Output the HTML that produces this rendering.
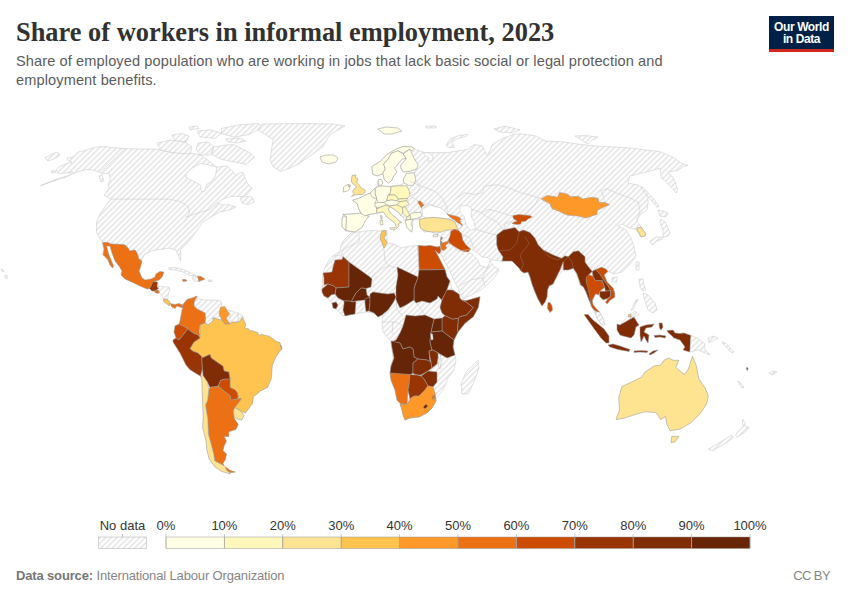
<!DOCTYPE html>
<html><head><meta charset="utf-8">
<style>
html,body{margin:0;padding:0;background:#fff;}
body{width:850px;height:600px;position:relative;overflow:hidden;font-family:"Liberation Sans",sans-serif;}
.title{position:absolute;left:16px;top:16.5px;font-family:"Liberation Serif",serif;font-weight:bold;font-size:26.4px;color:#323232;white-space:nowrap;letter-spacing:0px;}
.sub{position:absolute;left:16px;top:52px;font-size:14.6px;line-height:18.6px;color:#5b5b5b;width:720px;letter-spacing:0.1px;}
.logo{position:absolute;left:769px;top:16px;width:65px;height:36px;background:#002147;}
.logo .bar{position:absolute;left:0;bottom:0;width:65px;height:3px;background:#ce261e;}
.logo .t{position:absolute;left:0;top:4.6px;width:65px;text-align:center;color:#fff;font-weight:bold;font-size:12px;line-height:12.4px;letter-spacing:-0.4px;}
.foot{position:absolute;left:16px;top:568px;font-size:13px;color:#858585;white-space:nowrap;letter-spacing:-0.15px;}
.foot b{color:#767676;}
.cc{position:absolute;right:20px;top:568px;font-size:13px;color:#858585;letter-spacing:-0.6px;}
svg{position:absolute;left:0;top:0;}
.lt{font-size:13px;fill:#333;}
</style></head><body>
<div class="title">Share of workers in informal employment, 2023</div>
<div class="sub">Share of employed population who are working in jobs that lack basic social or legal protection and<br>employment benefits.</div>
<div class="logo"><div class="t">Our World<br>in Data</div><div class="bar"></div></div>
<svg width="850" height="600" viewBox="0 0 850 600">
<defs>
<pattern id="nd" patternUnits="userSpaceOnUse" width="4" height="4" patternTransform="rotate(-45 2 2)">
<rect x="-1" y="-1" width="6" height="6" fill="#ffffff"/>
<path d="M -1,2 l 6,0" stroke="#d4d4d4" stroke-width="1.0"/>
</pattern>
</defs>
<g id="map">
<path d="M40.3,185.7L56.2,179.3L66.8,176.1L73.1,171.9L58.3,174L56.2,169.8L59.4,166.6L66.8,163.4L72.1,162.4L67.8,160.2L66.8,158.1L73.1,157.1L78.4,151.8L82.7,151.2L90.1,148.6L98.6,147L104.9,146.5L111.3,147.5L125,148.6L140,149L155,149L171,152L190,153L201,155L209,161L216.8,167.1L227.4,165.9L233.2,171.8L235.6,175.3L242.6,171.8L245,177.6L247.4,183.5L252,188.2L247.4,194.1L242.6,196.5L230.9,196.5L223.8,198.8L217.9,202.4L221.5,205L228,204.5L236,207L230,210L220,211.8L212,216.5L203.8,221.2L200,226.2L193.5,235.3L188.3,241.7L180.6,249.5L180.6,261.2L179.3,257.3L175.4,249.5L168.9,248.2L159.9,249.5L152.1,250.8L144.3,254.7L141.7,259.9L139,259L137,253L135,250L130,251L128,248L125,245L122,244.5L111,244L102.5,242.5L96.5,232.7L96.5,222.3L100.3,213.3L106.8,204.2L110.7,199.1L104.2,195.2L107,191L109.2,188.8L108.1,184.6L110.2,180.4L109.2,173L102.8,174L98.6,171.9L92.2,169.8L85.8,169.8L77.4,171.9L66.8,176.8L56.2,180.3Z" fill="url(#nd)" stroke="#c9c9c9" stroke-width="0.55" stroke-linejoin="round"/>
<path d="M240.3,198L246,196.5L252,197L254.4,202L248,204.7L242,203Z" fill="url(#nd)" stroke="#c9c9c9" stroke-width="0.55" stroke-linejoin="round"/>
<path d="M186.2,174.1L192,168.2L200.3,163.5L207.4,164.7L216.8,167.1L215.6,175.3L212,181.2L206.2,184.7L205,190.6L201.5,191.8L200.3,184.7L193,181L186.2,177.6Z" fill="#fff" stroke="#c9c9c9" stroke-width="0.55"/>
<path d="M172,135L182,133.5L189,136L186,142L175,141Z" fill="url(#nd)" stroke="#c9c9c9" stroke-width="0.55" stroke-linejoin="round"/>
<path d="M157,143L170,140L185,142L192,147L190,154L175,153L160,150Z" fill="url(#nd)" stroke="#c9c9c9" stroke-width="0.55" stroke-linejoin="round"/>
<path d="M197,131L210,129.8L221.5,133L215,138.4L200,137Z" fill="url(#nd)" stroke="#c9c9c9" stroke-width="0.55" stroke-linejoin="round"/>
<path d="M198,143L208,142L214,147L210,155L200,155L196,149Z" fill="url(#nd)" stroke="#c9c9c9" stroke-width="0.55" stroke-linejoin="round"/>
<path d="M189,127L197,126L199,128.5L190,130Z" fill="url(#nd)" stroke="#c9c9c9" stroke-width="0.55" stroke-linejoin="round"/>
<path d="M214,147L226,145L233.8,144.6L248.6,152L254.8,157L250,161L246.2,164.3L233.8,161.9L221.5,159.4L211.6,154.4Z" fill="url(#nd)" stroke="#c9c9c9" stroke-width="0.55" stroke-linejoin="round"/>
<path d="M226,139L240,138L246,141L238,143L228,142Z" fill="url(#nd)" stroke="#c9c9c9" stroke-width="0.55" stroke-linejoin="round"/>
<path d="M221.5,128.5L238.8,124.8L258.5,123.6L262,126L256,131L248.6,134.7L233.8,137.2L221.5,133.5Z" fill="url(#nd)" stroke="#c9c9c9" stroke-width="0.55" stroke-linejoin="round"/>
<path d="M262,124L300,123.5L334,124L345,126L338,130L330,134.7L326,141L322.7,147L310,156L298,164.3L290,168L280.7,171.7L273.3,166.8L270,160L270.9,154.4L272,146L273.3,139.6L266,135L258,130Z" fill="url(#nd)" stroke="#c9c9c9" stroke-width="0.55" stroke-linejoin="round"/>
<path d="M320,157L326,155L334,155L338,158L336,162L328,164L322,162Z" fill="#ffffe5" stroke="#999" stroke-width="0.55" stroke-linejoin="round"/>
<path d="M157.5,282L159,286.5L169,287L170,290L168,295L168,299L164,299L161,295L159,293L158,290Z" fill="url(#nd)" stroke="#c9c9c9" stroke-width="0.55" stroke-linejoin="round"/>
<path d="M168,268L174,267.5L182,269L190,272.5L196,275.5L190,275.5L183,272L175,270L170,270Z" fill="url(#nd)" stroke="#c9c9c9" stroke-width="0.55" stroke-linejoin="round"/>
<path d="M192,277L197.5,276L199,281.5L194,281Z" fill="url(#nd)" stroke="#c9c9c9" stroke-width="0.55" stroke-linejoin="round"/>
<path d="M197,296L199,299L205,300L215,300L221,301L222,308L221,310L227,310L232,311L242,315L244,318L239,322L230,323L226,318L222,315L218,317L213,318L213,321L208,325L205,323L205,313L197,309L194,304Z" fill="url(#nd)" stroke="#c9c9c9" stroke-width="0.55" stroke-linejoin="round"/>
<path d="M413,147.6L414.9,149.3L424.8,152.6L438,152.6L447.8,152.6L457.7,151L467.6,149.3L474.2,144.4L482.4,146L487.4,155.9L492.3,144.4L503.8,137.8L513.7,134.5L520.3,133.7L536.8,136.1L545,140.9L562.6,141.8L580.3,144.4L597.9,146.2L615.5,147L629.7,147.9L643.8,149.7L659.6,151.5L672,156.7L682.6,163.8L688.2,165.3L682.4,167L677.6,170.6L668.2,171.8L674,178.8L677.6,189.4L676.5,193L668,184L661.2,177.6L660,168L650.8,170.9L629.7,176.1L627.9,183.2L638.5,185L644,190L648,196L648,204L647,210L640,215L637,221L641,227L646,234L645,236L641,237L637,230L630,228L622,224L618,226L626,230L630,236L634,246L636,256L630,264L622,272L614,274L608,271.3L604,275L607.2,282.2L613,288L614.7,293L614.7,297.2L609.7,300.5L607.2,303.8L603,299.7L599.7,296.3L598.8,294.7L595.5,293.8L592.2,300.5L593,304.7L596.3,308.8L599.7,312.2L603,318L605,325L602,325L597,318L593.8,309.7L591.3,306.3L589,300L586,292L583.3,286.7L580,285L576,273L573,268L563,270L555,280L553,284L549,286L547.5,290L547,297L545,302L542,306L538,299L535,292L532,284L530,277L528,272L524,273L521,271L519,268L515,264L512,261L502,261.3L496,260.7L490.7,259.3L488,258L482,256.7L476,252L470.7,248.7L468.7,251.3L473.3,255.3L478,260L480,265.3L488,268L490,260L491.3,262.7L494.7,266.7L498.7,269.3L497.3,273.3L494.7,277.3L488,284L481,290L463,299L460,293L449.5,270.5L439,251L437,247L441,245L440.5,236.7L437,234L430,231.5L424,232L419.7,225L419.7,219L412.6,220.3L412.6,227.4L411.5,232L406.8,227.4L405.6,220.3L403,217L399,213L394,209L389.5,206.5L388.5,209L389,211L391.5,214L394,216.5L396.5,218L398.5,220.5L401.5,222.5L399.5,223L398,224L399,226L396.5,228.5L396,226L395,223.5L392.5,221L389.5,219L386.5,216.5L385,214L383,212L380,212.5L377.5,213L369,214.4L369,216.2L365.6,220.3L362,227.4L355,232L345.6,230.9L342,226L342,219L343,214.4L361,213.2L358.5,208.5L357.4,203.8L352.6,200.3L359.7,198L366.8,194.4L370.3,193.2L375,188.5L377,186L378.2,180L381,179L382.9,183L381,185.3L388,187L391.5,186L401,184.7L404,183L403.2,179L404.8,176.7L406.4,173.5L414.2,172.8L416.6,168.8L410.3,171.2L403.2,172L400.9,168.1L400.9,164.9L406.4,158.7L402.5,158.7L399.3,162.6L394.6,168.1L397,172L393.8,175.9L391.5,180.6L388.4,183L384.4,179.8L382.9,173.5L377.4,175.9L372.7,174.3L371.9,166.5L379.7,161.8L386.8,154.7L395.4,149.3L403.2,146.5L411.9,146.9Z" fill="url(#nd)" stroke="#c9c9c9" stroke-width="0.55" stroke-linejoin="round"/>
<path d="M422.3,210L424,208.3L430,205L436,207L441,208L447.1,213.8L450,217L449,219.3L442.5,218.3L433.3,217.4L426,218L422.3,216Z" fill="#fff" stroke="#c9c9c9" stroke-width="0.55"/>
<path d="M460,206L468,205.5L472,209L471,216L474,222L475.5,229L470,230.3L466,224L464,216L460,212Z" fill="#fff" stroke="#c9c9c9" stroke-width="0.55"/>
<path d="M446.2,145L449.5,139.4L459.4,135.3L467.6,134.5L466,136.5L458,138.5L452,142L454.4,147.7L448,147.5Z" fill="url(#nd)" stroke="#c9c9c9" stroke-width="0.55" stroke-linejoin="round"/>
<path d="M426,126L436,126L436,128L426,128Z" fill="url(#nd)" stroke="#c9c9c9" stroke-width="0.55" stroke-linejoin="round"/>
<path d="M494,129L505,126L520,130L512,133L500,132Z" fill="url(#nd)" stroke="#c9c9c9" stroke-width="0.55" stroke-linejoin="round"/>
<path d="M378,129L386,127L398,128L402,131L392,134L384,134Z" fill="#ffffe5" stroke="#999" stroke-width="0.55" stroke-linejoin="round"/>
<path d="M575,136L586,135.6L598,137L592,140L588,144L580,139Z" fill="url(#nd)" stroke="#c9c9c9" stroke-width="0.55" stroke-linejoin="round"/>
<path d="M641.5,186.5L643.5,187.5L652,197L659,206L657.5,207.5L650,199L642,189Z" fill="url(#nd)" stroke="#c9c9c9" stroke-width="0.55" stroke-linejoin="round"/>
<path d="M658,210L663,211L668,213L666,217L660,216Z" fill="url(#nd)" stroke="#c9c9c9" stroke-width="0.55" stroke-linejoin="round"/>
<path d="M661,219L666,223L670,233L668,236L663,237L656,237L650,241L652,245L657,241L663,239L663,230L660,223Z" fill="url(#nd)" stroke="#c9c9c9" stroke-width="0.55" stroke-linejoin="round"/>
<path d="M636,262L639,262L639,270L636,270Z" fill="url(#nd)" stroke="#c9c9c9" stroke-width="0.55" stroke-linejoin="round"/>
<path d="M612,278L617,277L617,282L612,282Z" fill="url(#nd)" stroke="#c9c9c9" stroke-width="0.55" stroke-linejoin="round"/>
<path d="M639,279L643,279L644,285L646,290L643,291L640,287Z" fill="url(#nd)" stroke="#c9c9c9" stroke-width="0.55" stroke-linejoin="round"/>
<path d="M643,293L648,295L652,300L655,303L657,310L653,313L648,310L646,304L644,298Z" fill="url(#nd)" stroke="#c9c9c9" stroke-width="0.55" stroke-linejoin="round"/>
<path d="M636,300L638,299.5L632.5,310L631,310.5Z" fill="url(#nd)" stroke="#c9c9c9" stroke-width="0.55" stroke-linejoin="round"/>
<path d="M548,302.5L550,302.5L552,306L552.5,310L550,312.5L547.5,308.3Z" fill="#cc4c02" stroke="#999" stroke-width="0.55" stroke-linejoin="round"/>
<path d="M351,233L358,232L365,231L374,230.5L380,231L383,230L387,231L387,243L394,244L401,248L410,246L418,245.5L425,246L430,245.5L437,247L440,246.5L441,251L439,254L435,250L445,269.5L447,277L450,281L452,288L456,292L461.7,300L465.8,300.8L480,296.7L478.3,307.5L473.3,316.7L465,323.3L458,332L454,340L453,347L455,355L456,360L454,370L448,378L443,390L436,398L436,401L432,408L427,413L419,417L410,418L405,420L403,415L402,410L400,404L397,400L395,390L391,380L390,373L391,366L393,358L391,342L383,332L382,323L383,312L380,316L378,317L374,313L366,312L355,314L343,316L336,309L328,298L324,296L322,292L322,289L323,273L324,270L329,260L334,255L340,251L341,245L344,240Z" fill="url(#nd)" stroke="#c9c9c9" stroke-width="0.55" stroke-linejoin="round"/>
<path d="M478,360L479,368L474,382L468,394L462,394L461,384L466,372L472,366Z" fill="url(#nd)" stroke="#c9c9c9" stroke-width="0.55" stroke-linejoin="round"/>
<path d="M382,231L386,230.5L386,235L384,238L387,242L386,245L384,248L382,243L380,238L381,234Z" fill="#fec44f" stroke="#999" stroke-width="0.55" stroke-linejoin="round"/>
<path d="M418,245.5L425,246L430,245.5L437,247L440,246.5L441,251L439,254L435,250L445,269.5L419,270Z" fill="#cc4c02" stroke="#999" stroke-width="0.55" stroke-linejoin="round"/>
<path d="M419,270L445,269.5L447,277L450,281L446,292.5L441.7,300L438,296L437,299L430,303L422,301L416,303L414,300L414,288L418,277Z" fill="#662506" stroke="#999" stroke-width="0.55" stroke-linejoin="round"/>
<path d="M397,267L418,277L414,288L414,300L406,305L400,308L396,300L396,287L398,275Z" fill="#662506" stroke="#999" stroke-width="0.55" stroke-linejoin="round"/>
<path d="M323,273L332,272L333,267L335,260L342,259.5L343,256.5L349,262L349,287L336,288L334,286L328,284L324,285L324,278Z" fill="#993404" stroke="#999" stroke-width="0.55" stroke-linejoin="round"/>
<path d="M349,262L370,277L372,279L371,287L366,288.5L361,288L356,293L351,302L349,301L344,301L338,298L335,294L336,288L349,287Z" fill="#662506" stroke="#999" stroke-width="0.55" stroke-linejoin="round"/>
<path d="M322,289L328,284L334,286L336,288L335,294L331,295L328,298L324,296L322,292Z" fill="#802c05" stroke="#999" stroke-width="0.55" stroke-linejoin="round"/>
<path d="M361,288L366,288.5L367,295L370,297L365,300L356,301L351,302L356,293Z" fill="#662506" stroke="#999" stroke-width="0.55" stroke-linejoin="round"/>
<path d="M344,301L349,301L353,302L356,301L355,314L349,315L345,316L343,310L344,304Z" fill="#662506" stroke="#999" stroke-width="0.55" stroke-linejoin="round"/>
<path d="M365,299L370,297L370,303L369,311L366,311.5L365,304Z" fill="#662506" stroke="#999" stroke-width="0.55" stroke-linejoin="round"/>
<path d="M370,294L373,292L380,293L388,294L394,293L396,297L393,303L388,310L382,315L378,317L374,313L369,311L370,303Z" fill="#662506" stroke="#999" stroke-width="0.55" stroke-linejoin="round"/>
<path d="M332,303L336,302L338,305L336,309L333,308Z" fill="#662506" stroke="#999" stroke-width="0.55" stroke-linejoin="round"/>
<path d="M446.7,290L452.5,290L459.2,294.2L460,298.3L461.7,300L466,302L473.3,307.5L466.7,315L460,316.7L458.3,318.3L452.5,319.2L445,315.8L442,313L440,307.5L441.7,300.8Z" fill="#802c05" stroke="#999" stroke-width="0.55" stroke-linejoin="round"/>
<path d="M461.7,300L465.8,300.8L480,296.7L478.3,307.5L473.3,316.7L465,323.3L458,332L457.5,330L458.3,318.3L460,316.7L466.7,315L473.3,307.5L466,302Z" fill="#802c05" stroke="#999" stroke-width="0.55" stroke-linejoin="round"/>
<path d="M442,318L445,315.8L452.5,319.2L458.3,318.3L457.5,330L458,332L454,340L450,337L442,331Z" fill="#802c05" stroke="#999" stroke-width="0.55" stroke-linejoin="round"/>
<path d="M434,319L442,318L442,331L431,332L432.5,325Z" fill="#662506" stroke="#999" stroke-width="0.55" stroke-linejoin="round"/>
<path d="M406,315L415,316L425,315L434,319L432.5,325L431,332L430,342L432,350L429,351L430,362L427,360L418,359L414,357L413,349L410,347L403,349L400,343L391,342L396,340L400,333L403,326Z" fill="#662506" stroke="#999" stroke-width="0.55" stroke-linejoin="round"/>
<path d="M431,332L442,331L450,337L454,340L453,347L455,355L447,358L440,354L433,350L432,350L430,342Z" fill="#662506" stroke="#999" stroke-width="0.55" stroke-linejoin="round"/>
<path d="M391,341L400,343L403,349L410,347L413,349L414,357L418,359L413,363L413,373L410,375L390,373.5L391,366L394,358L392,348Z" fill="#662506" stroke="#999" stroke-width="0.55" stroke-linejoin="round"/>
<path d="M413,363L418,359L427,360L431,362L432,368L428,371L421,375L418,375L414,374L413,373Z" fill="#802c05" stroke="#999" stroke-width="0.55" stroke-linejoin="round"/>
<path d="M429,351L433,350L438,353L438,358L437,364L432,368L431,362L430,357Z" fill="#802c05" stroke="#999" stroke-width="0.55" stroke-linejoin="round"/>
<path d="M421,376L428,371L437,372L437,382L433,387L428,386L424,379Z" fill="#802c05" stroke="#999" stroke-width="0.55" stroke-linejoin="round"/>
<path d="M390,373L410,374.5L409,385L408,390L407,404L401,404L397,400L395,390L391,380Z" fill="#ec7014" stroke="#999" stroke-width="0.55" stroke-linejoin="round"/>
<path d="M410,374.5L417,375L421,376L424,379L428,386L425,390L419,396L414,396L410,399L408,390L409,385Z" fill="#993404" stroke="#999" stroke-width="0.55" stroke-linejoin="round"/>
<path d="M400,404L407,404L410,399L414,396L419,396L425,390L428,386L433,387L435,393L436,401L432,408L427,413L419,417L410,418L405,420L403,415L402,410Z" fill="#fe9929" stroke="#999" stroke-width="0.55" stroke-linejoin="round"/>
<path d="M423,407L426,404L428,406L425,409Z" fill="#802c05" stroke="#999" stroke-width="0.55" stroke-linejoin="round"/>
<path d="M432,396L435,395L435,399L432,399Z" fill="#ec7014" stroke="#999" stroke-width="0.55" stroke-linejoin="round"/>
<path d="M342.5,217L346.5,216.5L346,230.5L342,227L342,221Z" fill="#ffffe5" stroke="#999" stroke-width="0.55" stroke-linejoin="round"/>
<path d="M343,214.4L352,214L359.7,213.2L369,216.2L365.6,220.3L362,227.4L355,232L346,230.5L346.5,216.5Z" fill="#ffffe5" stroke="#999" stroke-width="0.55" stroke-linejoin="round"/>
<path d="M352.6,200.3L359.7,198L366.8,194.4L370.3,193.2L375,193.3L376.7,199.2L375,203.3L376.7,208.3L376.7,211.7L376.7,213.3L369,214.4L365,215.8L361,213.2L358.5,208.5L357.4,203.8Z" fill="#ffffe5" stroke="#999" stroke-width="0.55" stroke-linejoin="round"/>
<path d="M352,175.5L356,175L355,177.5L358,178.5L357,181L356.5,182L358.5,184L360,186L361,188L363.5,189L365.5,190.5L364.5,193L362.5,194.5L359,194.5L355,195L351.5,196.5L354,193.5L352.5,192L353.5,190L354.5,188.5L356.5,187L355.5,185.5L353,184L351.5,182L351.5,179Z" fill="#fee391" stroke="#999" stroke-width="0.55" stroke-linejoin="round"/>
<path d="M348,184.5L350.5,185L350,186.5L348.5,186Z" fill="#fee391" stroke="#999" stroke-width="0.55" stroke-linejoin="round"/>
<path d="M343.5,187L347.5,184.5L348.5,186.5L350,186.5L349.5,189L347.5,191L343,192L343.5,190Z" fill="#ffffe5" stroke="#999" stroke-width="0.55" stroke-linejoin="round"/>
<path d="M371.9,166.5L372.7,174.3L377.4,175.9L382.9,173.5L385.2,168.8L383.7,164.1L388.4,158.7L391.5,153.2L397.8,150.8L403.2,153.2L409.5,149.3L411.9,150.8L414.2,148.5L411.9,146.9L403.2,146.5L395.4,149.3L386.8,154.7L379.7,161.8Z" fill="#ffffe5" stroke="#999" stroke-width="0.55" stroke-linejoin="round"/>
<path d="M382.9,173.5L384.4,179.8L388.4,183L391.5,180.6L393.8,175.9L397,172L394.6,168.1L399.3,162.6L402.5,158.7L406.4,158.7L403.2,154L397.8,150.8L391.5,153.2L388.4,158.7L383.7,164.1L385.2,168.8Z" fill="#ffffe5" stroke="#999" stroke-width="0.55" stroke-linejoin="round"/>
<path d="M403.2,154L409.5,149.3L411.9,153.2L414.2,158.7L418.1,164.9L416.6,168.8L410.3,171.2L403.2,172L400.9,168.1L400.9,164.9L406.4,158.7Z" fill="#ffffe5" stroke="#999" stroke-width="0.55" stroke-linejoin="round"/>
<path d="M406.4,173.5L414.2,172.8L415.8,179.8L413.4,185.3L408.7,185.3L404,183L403.2,179L404.8,176.7Z" fill="#ffffe5" stroke="#999" stroke-width="0.55" stroke-linejoin="round"/>
<path d="M378.2,180L381,179L382.9,183L381,185.3L378.5,185.3Z" fill="#ffffe5" stroke="#999" stroke-width="0.55" stroke-linejoin="round"/>
<path d="M375,188.5L377.5,186.7L383,186L390.8,186.7L390.8,190L390,194.2L388.3,195L387.5,197.5L386.7,200.8L384.2,202.5L378.3,202.5L376.7,199.2L375,193.3Z" fill="#ffffe5" stroke="#999" stroke-width="0.55" stroke-linejoin="round"/>
<path d="M370.3,193.2L373,190L375,188.5L375,193.3L376.7,199.2L372,197Z" fill="#ffffe5" stroke="#999" stroke-width="0.55" stroke-linejoin="round"/>
<path d="M390.8,186.7L396.7,185.8L406.7,185.8L409.2,190.8L410,195.8L407.5,198.3L398.3,199.2L395,195L388.3,195L390,194.2L390.8,190Z" fill="#fff7bc" stroke="#999" stroke-width="0.55" stroke-linejoin="round"/>
<path d="M388.3,195L395,195L398.3,199.2L396.7,200.8L391.7,200L386.7,200.8L387.5,197.5Z" fill="#fff7bc" stroke="#999" stroke-width="0.55" stroke-linejoin="round"/>
<path d="M398.3,199.2L407.5,198.3L406.7,200.8L400,201.7L396.7,200.8Z" fill="#fff7bc" stroke="#999" stroke-width="0.55" stroke-linejoin="round"/>
<path d="M386.7,200.8L391.7,200L396.7,200.8L400,201.7L396.7,205L390,205.8L385.8,204.2L384.2,202.5Z" fill="#ffffe5" stroke="#999" stroke-width="0.55" stroke-linejoin="round"/>
<path d="M400,201.7L406.7,200.8L409,204L405,206.7L402.5,207.5L396.7,205Z" fill="#fff7bc" stroke="#999" stroke-width="0.55" stroke-linejoin="round"/>
<path d="M375,203.3L378.3,202.5L384.2,202.5L385.8,204.2L384.2,205.8L379.2,207.5L375,206.7Z" fill="#ffffe5" stroke="#999" stroke-width="0.55" stroke-linejoin="round"/>
<path d="M377,209L380,207.5L383.5,206L384.2,205.8L386.5,205.5L389.5,206.5L388.5,209L389,211L391.5,214L394,216.5L396.5,218L398.5,220.5L401.5,222.5L399.5,223L398,224L399,226L396.5,228.5L396,226L395,223.5L392.5,221L389.5,219L386.5,216.5L385,214L383,212L380,212.5L377.5,213L376.7,211.7L376.7,208.3Z" fill="#fff7bc" stroke="#999" stroke-width="0.55" stroke-linejoin="round"/>
<path d="M389.5,228L395,227.5L395,230L391.5,229.5Z" fill="#fff7bc" stroke="#999" stroke-width="0.55" stroke-linejoin="round"/>
<path d="M380,220.5L382.5,220L383,224.5L380.5,225Z" fill="#fff7bc" stroke="#999" stroke-width="0.55" stroke-linejoin="round"/>
<path d="M380.5,215.5L382,216L382,219L380.75,219Z" fill="#fff7bc" stroke="#999" stroke-width="0.55" stroke-linejoin="round"/>
<path d="M389.5,206.5L390,205.8L396.7,205L402.5,207.5L403,213.5L401,216L399,213L394,209Z" fill="#fff7bc" stroke="#999" stroke-width="0.55" stroke-linejoin="round"/>
<path d="M402.5,207.5L405,206.7L407.5,211L410,215.5L406.5,217L403,213.5Z" fill="#fff7bc" stroke="#999" stroke-width="0.55" stroke-linejoin="round"/>
<path d="M401,216L403,213.5L406.5,217L406,220L404.5,220.5L403,217Z" fill="url(#nd)" stroke="#c9c9c9" stroke-width="0.55" stroke-linejoin="round"/>
<path d="M406.5,217L410,215.5L410.8,217.5L410.5,219.5L406,220Z" fill="#fff7bc" stroke="#999" stroke-width="0.55" stroke-linejoin="round"/>
<path d="M406,220L410.5,219.5L413,219.2L412,222L411,224L412.6,227.4L411.5,232L406.8,227.4L405.6,222Z" fill="#ffffe5" stroke="#999" stroke-width="0.55" stroke-linejoin="round"/>
<path d="M410,215.5L410.8,213.3L416,212.5L420.8,212.5L422,215L420,217.5L413,219.2L410.5,219.5L410.8,217.5Z" fill="#ffffe5" stroke="#999" stroke-width="0.55" stroke-linejoin="round"/>
<path d="M417.8,201.4L420.5,201L424.2,205.5L422.5,206L421.4,208.3L420,205.5L418.5,203.5Z" fill="#ec7014" stroke="#999" stroke-width="0.55" stroke-linejoin="round"/>
<path d="M419.6,219.3L426,218L433.3,217.4L442.5,218.3L449,219.3L454.4,221.1L458.1,229.4L445.3,230.3L441.6,232.1L433.3,232.1L426,231.2L420.5,228.4L419.6,223.9Z" fill="#fee391" stroke="#999" stroke-width="0.55" stroke-linejoin="round"/>
<path d="M447,213.9L451,215L455.4,216L459,217.2L461.6,219.4L459.8,219.7L460.5,222.6L462.3,224.8L462,226L460,223.8L456.8,222.3L455.4,220.5L451.7,218.3L449,216Z" fill="#ec7014" stroke="#999" stroke-width="0.55" stroke-linejoin="round"/>
<path d="M451,231L454.7,229.3L458.5,230.5L461.5,233.5L462.7,240L466,245L470.7,249.3L468,252L462,251L456,247.5L448.75,242.9L448.2,240.5L450,236Z" fill="#cc4c02" stroke="#999" stroke-width="0.55" stroke-linejoin="round"/>
<path d="M442,242.9L448,241.25L448.75,242.9L445.4,245.4L446.7,247.9L443.75,250.4L441.25,249.6L441.5,245Z" fill="#ec7014" stroke="#999" stroke-width="0.55" stroke-linejoin="round"/>
<path d="M441.25,237.1L442.5,237.5L441.7,239.6L440.4,240.4Z" fill="#cc4c02" stroke="#999" stroke-width="0.55" stroke-linejoin="round"/>
<path d="M440.4,240.6L441.5,241.5L442,242.9L441.5,245L441.25,248.5L440.6,246Z" fill="#cc4c02" stroke="#999" stroke-width="0.55" stroke-linejoin="round"/>
<path d="M433.3,234.9L438,234.5L437.5,236.7L433.3,236.7Z" fill="#ffffe5" stroke="#999" stroke-width="0.55" stroke-linejoin="round"/>
<path d="M541.1,199.1L547.2,195.4L557.6,197.2L559.5,192.5L567,193.9L570.8,196.8L578.3,196.3L583,199.1L591.5,197.2L598.1,198.2L599,202.4L604.6,202.4L609.4,204.8L602.8,207.6L597.1,210.4L597.1,214.2L585.8,218L578.3,216.1L567,215.1L559.5,211.4L551.9,208.5L550.1,203.8L544.4,201Z" fill="#fe9929" stroke="#999" stroke-width="0.55" stroke-linejoin="round"/>
<path d="M512.8,215.8L518.2,214.6L529.7,215.4L532.2,217L528,219.1L525.6,221.2L521.5,221.6L520.6,224L517.3,224.5L512,223.6L514,222L517.3,221.2L514,219.1L513.2,217.9Z" fill="#cc4c02" stroke="#999" stroke-width="0.55" stroke-linejoin="round"/>
<path d="M496.7,235L503.3,230L515,227.5L519,231.7L523.3,230L530,232.5L535,238.3L538.3,245L543.3,250L553.3,255L561.7,258.3L565,255.8L568.3,256.7L573.3,251.7L578.3,250.8L585,256.7L585,262L588,266.3L592.2,271.3L588.8,274.7L586.3,279.7L587.2,283.8L589.7,290.5L591.3,298L591.3,304.7L589,300L586,292L583.3,286.7L580.8,285L576.7,273.3L573.3,268.3L568.3,270L563.3,270L563.3,261.7L560,270L555,280L553,284L549,286L547.5,290L547,297L545,302L542,306L538,299L535,292L532,284L530,277L528,272L524,273L521,271L519,268L515,264L512,261L502,261L503,257L498.3,250L496.7,245Z" fill="#802c05" stroke="#999" stroke-width="0.55" stroke-linejoin="round"/>
<path d="M586.3,277.2L588.8,274.7L593,276.3L595.5,280.5L602.2,280.5L604.7,287.2L599.7,291.3L598.8,294.7L595.5,293.8L592.2,300.5L593,304.7L596.3,308.8L599.7,312.2L597,312L593.8,309.7L591.3,306.3L589.7,296.3L588,288L586.3,281.3Z" fill="#cc4c02" stroke="#999" stroke-width="0.55" stroke-linejoin="round"/>
<path d="M595.5,269.7L601.3,267.2L605.5,268.8L608,271.3L604,275L607.2,282.2L613,288L614.7,293L614.7,297.2L609.7,300.5L607.2,303.8L605.5,302.2L608,298.8L610.5,296.3L610.5,290.5L609.7,288.8L607.2,284.7L602.2,278L599.7,273.8Z" fill="#cc4c02" stroke="#999" stroke-width="0.55" stroke-linejoin="round"/>
<path d="M592.2,271.3L595.5,269.7L599.7,273.8L602.2,278L607.2,284.7L609.7,288.8L610.5,290.5L605.5,291.3L604.7,287.2L602.2,280.5L595.5,280.5L593,276.3Z" fill="#802c05" stroke="#999" stroke-width="0.55" stroke-linejoin="round"/>
<path d="M599.7,291.3L605.5,291.3L610.5,290.5L610.5,296.3L607.2,298.8L603,299.7L599.7,296.3Z" fill="#802c05" stroke="#999" stroke-width="0.55" stroke-linejoin="round"/>
<path d="M637,228L641,227L643,230L646,234L645,236L641,237L639,233L637,230Z" fill="#fee391" stroke="#999" stroke-width="0.55" stroke-linejoin="round"/>
<path d="M595,312L599,312L603,318L605,325L602,325L597,318Z" fill="url(#nd)" stroke="#c9c9c9" stroke-width="0.55" stroke-linejoin="round"/>
<path d="M584,314.5L588,314.5L593,320L598,324L604,329L609,336L609,343L606,343L601,338L595,330L590,323Z" fill="#802c05" stroke="#999" stroke-width="0.55" stroke-linejoin="round"/>
<path d="M608,345L613,344L620,346L630,349.5L629,351.5L618,349.5L610,347Z" fill="#802c05" stroke="#999" stroke-width="0.55" stroke-linejoin="round"/>
<path d="M634,351L641,350.5L648,351L647,352.5L640,352L634,352.5Z" fill="#802c05" stroke="#999" stroke-width="0.55" stroke-linejoin="round"/>
<path d="M649,354L653,351L658,350L654,353L650,355Z" fill="#802c05" stroke="#999" stroke-width="0.55" stroke-linejoin="round"/>
<path d="M620,325L628,316L635,311L639,315L634,317Z" fill="url(#nd)" stroke="#c9c9c9" stroke-width="0.55" stroke-linejoin="round"/>
<path d="M617,324L620,325L634,317L637,322L639,325L636,327L634,335L631,338L623,336L620,335L617,330Z" fill="#802c05" stroke="#999" stroke-width="0.55" stroke-linejoin="round"/>
<path d="M628.5,314.5L631,314L631,317L628.5,317Z" fill="#fec44f" stroke="#999" stroke-width="0.55" stroke-linejoin="round"/>
<path d="M640,327L646,325L654,324L652,327L646,328L644,332L649,335L648,343L646,340L644,336L641,342L640,335Z" fill="#802c05" stroke="#999" stroke-width="0.55" stroke-linejoin="round"/>
<path d="M659,323L662,323L663,327L661,330L659.5,328Z" fill="#802c05" stroke="#999" stroke-width="0.55" stroke-linejoin="round"/>
<path d="M654,335.5L660,335L666,336L665,338L660,337L655,337.5Z" fill="#802c05" stroke="#999" stroke-width="0.55" stroke-linejoin="round"/>
<path d="M667,330.5L673,330L675,333L680,333.5L684,333L691,335.5L690,352L683,350L685,347L680,340L674,338L671,335L668,332.5Z" fill="#802c05" stroke="#999" stroke-width="0.55" stroke-linejoin="round"/>
<path d="M691,335.5L697,338L705,344L704,348L710,355L698,350L690,352Z" fill="url(#nd)" stroke="#c9c9c9" stroke-width="0.55" stroke-linejoin="round"/>
<path d="M708,338L714,336L718,338L713,341L709,343Z" fill="url(#nd)" stroke="#c9c9c9" stroke-width="0.55" stroke-linejoin="round"/>
<path d="M722,342L726,343.5L734,352L732,353L724,345Z" fill="url(#nd)" stroke="#c9c9c9" stroke-width="0.55" stroke-linejoin="round"/>
<path d="M616.3,418.1L619.5,410.2L618.7,397.5L621.9,386.5L630.6,382.5L641.7,376.9L644.9,372.2L654.4,365.8L660.7,365.1L663.9,360.3L668.6,357.9L673.4,360.3L678.9,360.3L675.8,367.4L684.5,374.6L688.4,369L692.4,356.3L696.4,365.8L698.7,378.5L705.1,388L708.3,396L706.7,403.9L700.3,413.4L690.8,422.9L679.7,429.2L670.2,430.8L667,424.5L665.5,416.6L660.7,419.7L656,412.6L644.9,411.8L633.8,415L624.3,418.1L616.3,419.7Z" fill="#fee391" stroke="#999" stroke-width="0.55" stroke-linejoin="round"/>
<path d="M671.8,436.4L678.9,436.4L675,441.9L671,442.7Z" fill="#fee391" stroke="#999" stroke-width="0.55" stroke-linejoin="round"/>
<path d="M742.5,419.2L745,422.5L745,425.8L749.2,427.5L746.7,430.8L736.7,437.5L735.8,435L737.5,431.7L743.3,426.7L742.5,422.5Z" fill="url(#nd)" stroke="#c9c9c9" stroke-width="0.55" stroke-linejoin="round"/>
<path d="M731.7,435L733.3,437.5L725.8,443.3L712.5,450.8L708.3,449.2L716.7,444.2L725,439.2Z" fill="url(#nd)" stroke="#c9c9c9" stroke-width="0.55" stroke-linejoin="round"/>
<path d="M102.5,242.5L108,242.5L111,244L122,244.5L125,245L128,248L130,251L135,250L137,253L139,259L142,261L140.5,267L139,271L142,278L145,280L151,279L155,277L156,274L159,272L160,271.5L163.5,272L164,272L162,277L159,280L156,281L153,282L151,286L149.5,288.5L147,289L140,286L134,283L125,279L121,275L122,271L119,266L115,261L112,253L110,246L106.5,246L109,255L111,260L113.5,266L112.5,268L110,265L108,260L104.5,256L103,255L104,249Z" fill="#ec7014" stroke="#999" stroke-width="0.55" stroke-linejoin="round"/>
<path d="M153,281.5L157.5,282L157,287L158.5,288L156,291L152,291L149.5,288.5L151,286Z" fill="#993404" stroke="#999" stroke-width="0.55" stroke-linejoin="round"/>
<path d="M154.5,290.5L158,290L159.5,292L158,293.5L155,292.5Z" fill="#ec7014" stroke="#999" stroke-width="0.55" stroke-linejoin="round"/>
<path d="M163.5,299L167.5,299.5L170,302L169.5,306L167,304L164,302Z" fill="#fec44f" stroke="#999" stroke-width="0.55" stroke-linejoin="round"/>
<path d="M170,303.5L175,304.5L179,303.5L182.5,305L183,308L180,307L177,306L175,308.5L172,307Z" fill="#ec7014" stroke="#999" stroke-width="0.55" stroke-linejoin="round"/>
<path d="M182.5,279.5L186,279.5L187,281L183,281.5Z" fill="#ec7014" stroke="#999" stroke-width="0.55" stroke-linejoin="round"/>
<path d="M197.5,276L201,276.5L205,279L199,281.5Z" fill="#ec7014" stroke="#999" stroke-width="0.55" stroke-linejoin="round"/>
<path d="M208,280L212,280L212,281.5L208,281.5Z" fill="url(#nd)" stroke="#c9c9c9" stroke-width="0.55" stroke-linejoin="round"/>
<path d="M182.5,305L187,299.5L192,298L197,296L194,302L194,306L197,309L205,313L205.5,318L205,323L200,325L199,331L200,338L198,335L193,333L188,329L185,327L179,324L180,321L182,310L183,308Z" fill="#ec7014" stroke="#999" stroke-width="0.55" stroke-linejoin="round"/>
<path d="M220.4,307.2L224.7,306.5L229.6,314.3L226,318.5L230.2,324L224.7,324L222,320L219,314.3Z" fill="#fe9929" stroke="#999" stroke-width="0.55" stroke-linejoin="round"/>
<path d="M200,325L205,323L208,325L213,321L213,318L218,319L222,320L224.7,324L230.2,324L232,322L239,322L242.4,317.4L245.9,324.4L244.7,328L248.8,329L249.4,331.5L250.6,330.3L257.6,332.6L258.8,335.6L261.2,334.4L269.4,336.2L276.5,341.5L280,342.6L281.8,349.7L280.6,345L281.8,348.5L275.9,356.8L272.4,365L271.2,379.1L267.6,387.4L260.6,390.9L253.5,396.8L252.4,403.8L245.3,413.2L240.6,410.9L234.7,407.4L239.4,401.5L241.2,398.5L237,399L238.2,396.8L237,392L234.7,389.7L230,387.4L230,379.1L228.8,372L224.1,370.9L223,366.2L211.2,358L210,354.4L201.8,358L201.8,356.8L198.2,353.2L192.4,350.9L190,348.5L194,342L200,338Z" fill="#fec44f" stroke="#999" stroke-width="0.55" stroke-linejoin="round"/>
<path d="M175,326L179,324L185,327L188,329L187,330L183,335L179,340L176,338L174,332Z" fill="#cc4c02" stroke="#999" stroke-width="0.55" stroke-linejoin="round"/>
<path d="M173,340L176,338L179,340L183,335L187,330L188,329L193,333L198,335L200,338L194,342L190,348.5L192.4,350.9L198.2,353.2L201.8,356.8L201.8,358L202.4,368.5L200.6,376.2L190,369.7L186,365L180,353L173,342Z" fill="#993404" stroke="#999" stroke-width="0.55" stroke-linejoin="round"/>
<path d="M201.8,358L210,354.4L211.2,358L223,366.2L224.1,370.9L228.8,372L230,379.1L225.3,379.1L220.6,380.3L218.2,386.2L210,387.4L207.6,382.6L203,375.6L202.4,368.5Z" fill="#802c05" stroke="#999" stroke-width="0.55" stroke-linejoin="round"/>
<path d="M220.6,380.3L225.3,379.1L230,379.1L230,387.4L234.7,389.7L237,392L238.2,396.8L237,399L231.2,400.3L230,395.6L225.3,392L218.2,386.2Z" fill="#cc4c02" stroke="#999" stroke-width="0.55" stroke-linejoin="round"/>
<path d="M208.8,389.7L210,387.4L218.2,386.2L225.3,392L230,395.6L231.2,400.3L237,399L241.2,398.5L239.4,401.5L234.7,407.4L233.5,410.9L234.1,417.8L238.2,424.8L235.8,429.5L228.8,431.8L228.8,436.5L224.2,436.5L226.5,441.2L224.2,445.8L223,450.5L226.5,454L225.3,459.8L223,463.3L224.2,465.7L214.8,461L213.7,454L211.3,444.7L208.4,434.2L207.8,419L205.5,405L207.6,400.3Z" fill="#ec7014" stroke="#999" stroke-width="0.55" stroke-linejoin="round"/>
<path d="M225.3,466.8L230,470.3L235.3,472.1L230,472.7L226.5,470.3Z" fill="#ec7014" stroke="#999" stroke-width="0.55" stroke-linejoin="round"/>
<path d="M200.6,376.2L203,375.6L207.6,382.6L208.8,389.7L207.6,400.3L205.5,405L207.8,419L208.4,434.2L211.3,444.7L213.7,454L214.8,461L224.2,465.7L225.3,466.8L226.5,470.3L230,472.7L230,473.8L221.8,471.5L214.8,466.8L209,458.7L206.7,449.3L206.1,441.2L204.3,434.2L202.6,427.2L203.2,416.7L202.4,398L201.8,380.3Z" fill="#fee391" stroke="#999" stroke-width="0.55" stroke-linejoin="round"/>
<path d="M234.7,407.4L240.6,410.9L244,415.5L241.7,420.2L237,419L234.1,416.7L233.5,410.9Z" fill="#fee391" stroke="#999" stroke-width="0.55" stroke-linejoin="round"/>
<path d="M746.5,367.5L748,368L747.5,370.5L746.5,369.5Z" fill="#802c05" stroke="#999" stroke-width="0.55" stroke-linejoin="round"/>
<path d="M737.5,381L740,382L744,387.6L742,388Z" fill="url(#nd)" stroke="#c9c9c9" stroke-width="0.55" stroke-linejoin="round"/>
<path d="M769,373L774,371L777,372L772,375Z" fill="url(#nd)" stroke="#c9c9c9" stroke-width="0.55" stroke-linejoin="round"/>
<path d="M1,269L3,270L4,272L2,271Z" fill="url(#nd)" stroke="#c9c9c9" stroke-width="0.55" stroke-linejoin="round"/>
<path d="M5,275L8,276.5L7,279L5,278Z" fill="url(#nd)" stroke="#c9c9c9" stroke-width="0.55" stroke-linejoin="round"/>
<path d="M430.8,333.5L432.6,334L433.2,339.5L431.2,340Z" fill="#fff" stroke="#999" stroke-width="0.4"/>
<path d="M438.5,354L440.5,355L441,363L440,369L438.6,366L439.2,359Z" fill="#fff" stroke="#999" stroke-width="0.4"/>
<path d="M45,158L52,154L57,152L60,155L54,159L48,161Z" fill="url(#nd)" stroke="#c9c9c9" stroke-width="0.55" stroke-linejoin="round"/>
<path d="M51,171L55,170.5L56,172.5L52,173Z" fill="url(#nd)" stroke="#c9c9c9" stroke-width="0.55" stroke-linejoin="round"/>
<path d="M99,176L102,175L104,181L101,182Z" fill="url(#nd)" stroke="#c9c9c9" stroke-width="0.55" stroke-linejoin="round"/>
<path d="M423.5,153L428,152.8L433,156L432,160.5L428,161.5L429,157.5L425,155.5Z" fill="#fff" stroke="#c9c9c9" stroke-width="0.5"/>
<path d="M110.7,199.1L168.9,199.1L180.6,201.6L188.3,206.8L189.6,213.3L185.7,217.2L195,214L209.7,209.4L217.9,202.4" fill="none" stroke="#c9c9c9" stroke-width="0.55" stroke-linejoin="round"/>
<path d="M125,148.6L100.7,171.9" fill="none" stroke="#c9c9c9" stroke-width="0.55" stroke-linejoin="round"/>
<path d="M457.8,197.8L464.4,192.8L474.3,194.5L482.5,192.8L484.1,186.2L497.3,184.6L508.8,187.9L520.4,192.8L528.6,194.5L538.5,197.8L542,199" fill="none" stroke="#c9c9c9" stroke-width="0.55" stroke-linejoin="round"/>
<path d="M538.5,197.8L535.2,204.4L530.3,209.3L526,214L524,215" fill="none" stroke="#c9c9c9" stroke-width="0.55" stroke-linejoin="round"/>
<path d="M512,216L500.6,212.6L489.1,209.3L480.8,212.6L471,209" fill="none" stroke="#c9c9c9" stroke-width="0.55" stroke-linejoin="round"/>
<path d="M604.6,202.4L603,195L600.9,190.6L606.5,188.8L615,192.5L630,198L638,202L640,210L638,218L636,220" fill="none" stroke="#c9c9c9" stroke-width="0.55" stroke-linejoin="round"/>
<path d="M542,199L548,203" fill="none" stroke="#c9c9c9" stroke-width="0.55" stroke-linejoin="round"/>
<path d="M410,181.3L416,184L426.5,187.9L436,192L443,199.4L447,207L447.1,213.8" fill="none" stroke="#c9c9c9" stroke-width="0.55" stroke-linejoin="round"/>
<path d="M416.5,181L420,186L418,192L410,195.8" fill="none" stroke="#c9c9c9" stroke-width="0.55" stroke-linejoin="round"/>
<path d="M410,195.8L418,200.8L417.8,201.4" fill="none" stroke="#c9c9c9" stroke-width="0.55" stroke-linejoin="round"/>
<path d="M423.3,204.2L430,204L436,207" fill="none" stroke="#c9c9c9" stroke-width="0.55" stroke-linejoin="round"/>
<path d="M418,245.5L419,270" fill="none" stroke="#c9c9c9" stroke-width="0.55" stroke-linejoin="round"/>
<path d="M475.5,229L484,232L496.7,235" fill="none" stroke="#c9c9c9" stroke-width="0.55" stroke-linejoin="round"/>
<path d="M462.7,234.9L470,238L473.5,248" fill="none" stroke="#c9c9c9" stroke-width="0.55" stroke-linejoin="round"/>
<path d="M458.1,229.4L462.7,226.6" fill="none" stroke="#c9c9c9" stroke-width="0.55" stroke-linejoin="round"/>
<path d="M449,242.2L458,251L470,249.5" fill="none" stroke="#c9c9c9" stroke-width="0.55" stroke-linejoin="round"/>
<path d="M460,285.5L472,279.5L482.5,278L488.5,264.5" fill="none" stroke="#c9c9c9" stroke-width="0.55" stroke-linejoin="round"/>
<path d="M482.5,278L485,286" fill="none" stroke="#c9c9c9" stroke-width="0.55" stroke-linejoin="round"/>
<path d="M519.2,231.7L516.7,243.3L510,250L500,250.8" fill="none" stroke="#9a7060" stroke-width="0.5" stroke-linejoin="round"/>
<path d="M525,236.7L529.2,243.3L520,255L523.3,264.2L521,271" fill="none" stroke="#9a7060" stroke-width="0.5" stroke-linejoin="round"/>
<path d="M543.3,250L548,256L557,260L561.7,258.3" fill="none" stroke="#9a7060" stroke-width="0.5" stroke-linejoin="round"/>
<path d="M563.3,261.7L568.3,256.7L572,262L573.3,268.3" fill="none" stroke="#9a7060" stroke-width="0.5" stroke-linejoin="round"/>
<path d="M359.1,235L359.1,242.1L350,246L342.6,250.4L341.5,255" fill="none" stroke="#c9c9c9" stroke-width="0.55" stroke-linejoin="round"/>
<path d="M341.5,255L332,256.2" fill="none" stroke="#c9c9c9" stroke-width="0.55" stroke-linejoin="round"/>
<path d="M383.8,248L385,261L388.5,265.6L395.6,268" fill="none" stroke="#c9c9c9" stroke-width="0.55" stroke-linejoin="round"/>
<path d="M370.9,277.4L380,270L388.5,265.6" fill="none" stroke="#c9c9c9" stroke-width="0.55" stroke-linejoin="round"/>
<path d="M396,300L397,310L403,316" fill="none" stroke="#c9c9c9" stroke-width="0.55" stroke-linejoin="round"/>
<path d="M416,303L419,306L425,315" fill="none" stroke="#c9c9c9" stroke-width="0.55" stroke-linejoin="round"/>
<path d="M383,322L396,322L403,326" fill="none" stroke="#c9c9c9" stroke-width="0.55" stroke-linejoin="round"/>
<path d="M393,322L392,334" fill="none" stroke="#c9c9c9" stroke-width="0.55" stroke-linejoin="round"/>
<path d="M480.8,212.6L489,218L497,222L503.3,230" fill="none" stroke="#c9c9c9" stroke-width="0.55" stroke-linejoin="round"/>
<path d="M512,221L505,224L503.3,230" fill="none" stroke="#c9c9c9" stroke-width="0.55" stroke-linejoin="round"/>
<path d="M238,312L238,321" fill="none" stroke="#c9c9c9" stroke-width="0.55" stroke-linejoin="round"/>
<path d="M230,313L230,322" fill="none" stroke="#c9c9c9" stroke-width="0.55" stroke-linejoin="round"/>
</g>
<g id="legend">
<rect x="98.5" y="537" width="48" height="11.5" fill="url(#nd)" stroke="#b8b8b8" stroke-width="0.6"/>
<line x1="122.5" y1="534" x2="122.5" y2="537" stroke="#999" stroke-width="0.6"/>
<text x="122.5" y="529.6" text-anchor="middle" class="lt">No data</text>
<rect x="166" y="537" width="58.4" height="11.5" fill="#ffffe5" stroke="#999" stroke-width="0.5"/>
<rect x="224.4" y="537" width="58.4" height="11.5" fill="#fff7bc" stroke="#999" stroke-width="0.5"/>
<rect x="282.8" y="537" width="58.4" height="11.5" fill="#fee391" stroke="#999" stroke-width="0.5"/>
<rect x="341.2" y="537" width="58.4" height="11.5" fill="#fec44f" stroke="#999" stroke-width="0.5"/>
<rect x="399.6" y="537" width="58.4" height="11.5" fill="#fe9929" stroke="#999" stroke-width="0.5"/>
<rect x="458" y="537" width="58.4" height="11.5" fill="#ec7014" stroke="#999" stroke-width="0.5"/>
<rect x="516.4" y="537" width="58.4" height="11.5" fill="#cc4c02" stroke="#999" stroke-width="0.5"/>
<rect x="574.8" y="537" width="58.4" height="11.5" fill="#993404" stroke="#999" stroke-width="0.5"/>
<rect x="633.2" y="537" width="58.4" height="11.5" fill="#802c05" stroke="#999" stroke-width="0.5"/>
<rect x="691.6" y="537" width="58.4" height="11.5" fill="#662506" stroke="#999" stroke-width="0.5"/>
<line x1="166" y1="534" x2="166" y2="548.5" stroke="#aaa" stroke-width="0.6"/>
<text x="166" y="529.6" text-anchor="middle" class="lt">0%</text>
<line x1="224.4" y1="534" x2="224.4" y2="548.5" stroke="#aaa" stroke-width="0.6"/>
<text x="224.4" y="529.6" text-anchor="middle" class="lt">10%</text>
<line x1="282.8" y1="534" x2="282.8" y2="548.5" stroke="#aaa" stroke-width="0.6"/>
<text x="282.8" y="529.6" text-anchor="middle" class="lt">20%</text>
<line x1="341.2" y1="534" x2="341.2" y2="548.5" stroke="#aaa" stroke-width="0.6"/>
<text x="341.2" y="529.6" text-anchor="middle" class="lt">30%</text>
<line x1="399.6" y1="534" x2="399.6" y2="548.5" stroke="#aaa" stroke-width="0.6"/>
<text x="399.6" y="529.6" text-anchor="middle" class="lt">40%</text>
<line x1="458" y1="534" x2="458" y2="548.5" stroke="#aaa" stroke-width="0.6"/>
<text x="458" y="529.6" text-anchor="middle" class="lt">50%</text>
<line x1="516.4" y1="534" x2="516.4" y2="548.5" stroke="#aaa" stroke-width="0.6"/>
<text x="516.4" y="529.6" text-anchor="middle" class="lt">60%</text>
<line x1="574.8" y1="534" x2="574.8" y2="548.5" stroke="#aaa" stroke-width="0.6"/>
<text x="574.8" y="529.6" text-anchor="middle" class="lt">70%</text>
<line x1="633.2" y1="534" x2="633.2" y2="548.5" stroke="#aaa" stroke-width="0.6"/>
<text x="633.2" y="529.6" text-anchor="middle" class="lt">80%</text>
<line x1="691.6" y1="534" x2="691.6" y2="548.5" stroke="#aaa" stroke-width="0.6"/>
<text x="691.6" y="529.6" text-anchor="middle" class="lt">90%</text>
<line x1="750" y1="534" x2="750" y2="548.5" stroke="#aaa" stroke-width="0.6"/>
<text x="750" y="529.6" text-anchor="middle" class="lt">100%</text>
</g>
</svg>
<div class="foot"><b>Data source:</b> International Labour Organization</div>
<div class="cc">CC BY</div>
</body></html>
